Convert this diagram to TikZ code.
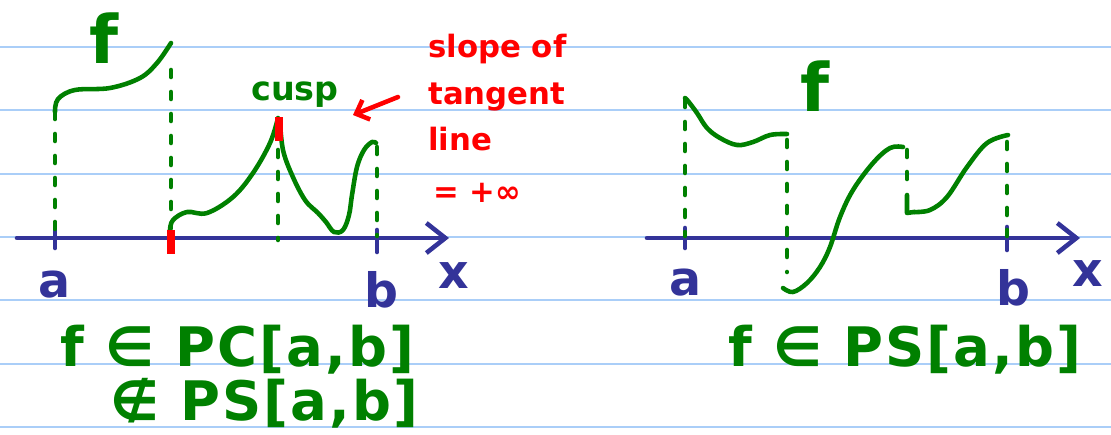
\documentclass[tikz,border=0pt]{standalone}
\usepackage{fontspec}
\setmainfont{DejaVu Sans}
\newfontfamily\penfont[LetterSpace=4]{DejaVu Sans}
\usetikzlibrary{arrows.meta}
\definecolor{pengreen}{RGB}{0,128,0}
\definecolor{pennavy}{RGB}{51,51,153}
\definecolor{penred}{RGB}{255,0,0}
\definecolor{ruleblue}{RGB}{170,206,248}
\begin{document}
\begin{tikzpicture}[x=0.02cm,y=-0.02cm,line join=round,line cap=round,
    rule/.style={ruleblue,line width=1.1pt},
    axis/.style={pennavy,line width=2.6pt,-{Straight Barb[length=0.38cm,width=0.6cm]}},
    tick/.style={pennavy,line width=2.6pt},
    graph/.style={pengreen,line width=2.6pt},
    guide/.style={pengreen,line width=2.6pt,dash pattern=on 0.14cm off 0.3cm},
    redmark/.style={penred,line width=5pt,line cap=butt},
    endlbl/.style={pennavy,font=\fontsize{27}{30}\bfseries},
    setlbl/.style={pengreen,font=\fontsize{31}{36}\penfont\bfseries},
    note/.style={penred,font=\fontsize{17.5}{26.5}\bfseries,align=left}]
	\useasboundingbox (0,0) rectangle (1111,434);
	%========================
	\foreach \ry in {0,...,6}
		\draw[rule] (0,47+63.33*\ry) -- (1111,47+63.33*\ry);
	%========================  left graph
	\coordinate (L0) at (17,238);
	\coordinate (L1) at (449,238);
	\draw[axis] (L0) -- (L1);
	\draw[tick] (55,230) -- (55,248);
	\draw[tick] (377,230) -- (377,252);
	\draw[guide] (55,112) -- (55,236);
	\draw[guide] (171,70) -- (171,228);
	\draw[guide] (278,150) -- (278,240);
	\draw[guide] (377,147) -- (377,236);
	\draw[graph] plot[smooth,tension=.6] coordinates {(55,112) (58,99) (75,90) (110,88) (140,78) (157,63) (171,43)};
	\draw[graph] plot[smooth,tension=.6] coordinates {(170,230) (173,220) (187,212) (207,213) (233,197) (253,173) (270,143) (278,118)};
	\draw[graph] plot[smooth,tension=.6] coordinates {(280,122) (283,150) (292,175) (305,200) (318,213) (326,222) (334,232) (343,230) (349,215) (352,195) (357,167) (364,150) (372,142) (376,143)};
	\draw[redmark] (171,230) -- (171,254);
	\draw[redmark] (279,117) -- (279,141);
	\node[endlbl] (la) at (55,285) {a};
	\node[endlbl] (lb) at (381,290) {b};
	\node[endlbl] (lx) at (454,276) {x};
	\node[pengreen,font=\fontsize{38}{44}\bfseries] (lf) at (104,38) {f};
	\node[pengreen,font=\fontsize{19}{24}\bfseries,anchor=base] (cusp) at (295,100) {cusp};
	\node[note,anchor=north west,inner sep=0pt] (slope) at (428,34) {slope of\\tangent\\line\\[3pt]\,= +∞};
	\coordinate (arrS) at (398,97);
	\coordinate (arrE) at (353,115);
	\draw[penred,line width=2.6pt,-{Straight Barb[length=0.22cm,width=0.42cm]}] (arrS) -- (arrE);
	\node[setlbl,anchor=base west,inner sep=0pt] (lset) at (60,366) {f ∈ PC[a,b]};
	\node[setlbl,anchor=base west,inner sep=0pt] (lnot) at (110,420) {∉ PS[a,b]};
	%========================  right graph
	\coordinate (R0) at (647,238);
	\coordinate (R1) at (1080,238);
	\draw[axis] (R0) -- (R1);
	\draw[tick] (685,228) -- (685,248);
	\draw[tick] (1007,227) -- (1007,250);
	\draw[guide] (685,100) -- (685,236);
	\draw[guide] (787,140) -- (787,272);
	\draw[guide] (907,150) -- (907,182);
	\draw[guide] (1007,142) -- (1007,236);
	\draw[graph] plot[smooth,tension=.6] coordinates {(685,98) (688,101) (697,113) (707,128) (720,138) (737,145) (753,142) (770,135) (787,134)};
	\draw[graph] plot[smooth,tension=.6] coordinates {(783,288) (793,292) (807,283) (820,267) (830,247) (840,217) (853,190) (873,163) (890,148) (903,147)};
	\draw[graph] (907,195) -- (907,213) -- (914,212);
	\draw[graph] plot[smooth,tension=.6] coordinates {(914,212) (930,210) (947,197) (967,167) (987,143) (1008,135)};
	\node[endlbl] (ra) at (685,283) {a};
	\node[endlbl] (rb) at (1013,288) {b};
	\node[endlbl] (rx) at (1088,274) {x};
	\node[pengreen,font=\fontsize{38}{44}\bfseries] (rf) at (815,86) {f};
	\node[setlbl,anchor=base west,inner sep=0pt] (rset) at (728,366) {f ∈ PS[a,b]};
	%========================
\end{tikzpicture}
\end{document}
